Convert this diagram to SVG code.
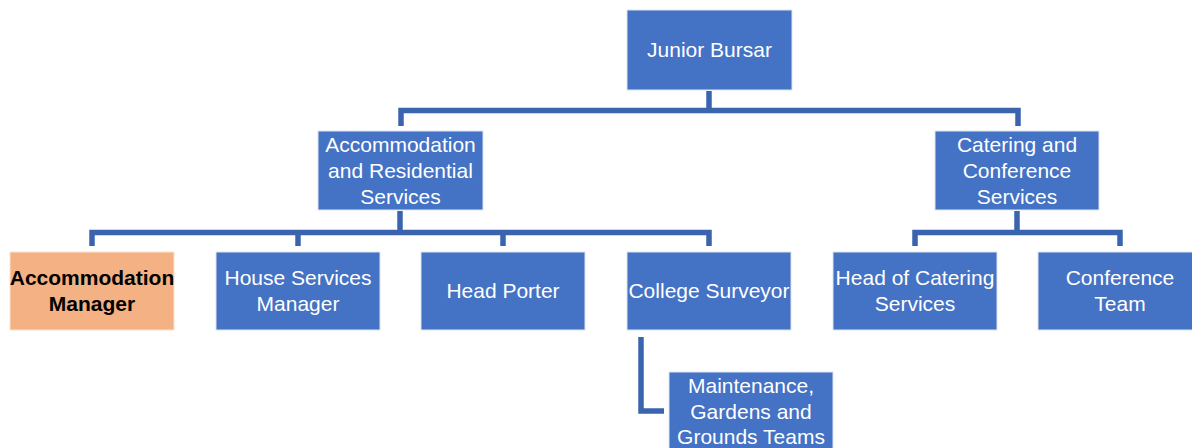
<svg xmlns="http://www.w3.org/2000/svg" width="1192" height="448" viewBox="0 0 1192 448">
<style>
.box{fill:#4472C4;stroke:#DCE4F2;stroke-width:1}
.hl{fill:#F4B183;stroke:#FBE3D0;stroke-width:1}
.t{font-family:"Liberation Sans",Arial,sans-serif;font-size:21px;fill:#FFFFFF;text-anchor:middle}
.tb{font-family:"Liberation Sans",Arial,sans-serif;font-size:21px;fill:#000000;font-weight:bold;text-anchor:middle}
.c{fill:none;stroke:#3B64AE;stroke-width:5.5;stroke-linejoin:miter;stroke-linecap:butt}
</style>
<rect width="1192" height="448" fill="#FFFFFF"/>
<g id="connectors">
<path class="c" d="M709,91 V110.5"/>
<path class="c" d="M401,126 V110.5 H1018 V126"/>
<path class="c" d="M400,211 V232.5"/>
<path class="c" d="M92,246 V232.5 H709 V246"/>
<path class="c" d="M298,232.5 V246"/>
<path class="c" d="M503,232.5 V246"/>
<path class="c" d="M1017,211 V232.5"/>
<path class="c" d="M915,246 V232.5 H1120 V246"/>
<path class="c" d="M641,337 V411 H664"/>
</g>
<g id="junior-bursar">
<rect class="box" x="627" y="10" width="165" height="80"/>
<text class="t" x="709.5" y="57">Junior Bursar</text>
</g>
<g id="accommodation-residential">
<rect class="box" x="318" y="131" width="165" height="79"/>
<text class="t" x="400.5" y="152">Accommodation</text>
<text class="t" x="400.5" y="178">and Residential</text>
<text class="t" x="400.5" y="204">Services</text>
</g>
<g id="catering-conference">
<rect class="box" x="935" y="131" width="164" height="79"/>
<text class="t" x="1017" y="152">Catering and</text>
<text class="t" x="1017" y="178">Conference</text>
<text class="t" x="1017" y="204">Services</text>
</g>
<g id="accommodation-manager">
<rect class="hl" x="10" y="252" width="164" height="78"/>
<text class="tb" x="92" y="285">Accommodation</text>
<text class="tb" x="92" y="311">Manager</text>
</g>
<g id="house-services-manager">
<rect class="box" x="216" y="252" width="164" height="78"/>
<text class="t" x="298" y="285">House Services</text>
<text class="t" x="298" y="311">Manager</text>
</g>
<g id="head-porter">
<rect class="box" x="421" y="252" width="164" height="78"/>
<text class="t" x="503" y="298">Head Porter</text>
</g>
<g id="college-surveyor">
<rect class="box" x="627" y="252" width="164" height="78"/>
<text class="t" x="709" y="298">College Surveyor</text>
</g>
<g id="head-of-catering">
<rect class="box" x="833" y="252" width="164" height="78"/>
<text class="t" x="915" y="285">Head of Catering</text>
<text class="t" x="915" y="311">Services</text>
</g>
<g id="conference-team">
<rect class="box" x="1038" y="252" width="164" height="78"/>
<text class="t" x="1120" y="285">Conference</text>
<text class="t" x="1120" y="311">Team</text>
</g>
<g id="maintenance">
<rect class="box" x="669" y="372" width="164" height="80"/>
<text class="t" x="751" y="393">Maintenance,</text>
<text class="t" x="751" y="419">Gardens and</text>
<text class="t" x="751" y="444">Grounds Teams</text>
</g>
</svg>
